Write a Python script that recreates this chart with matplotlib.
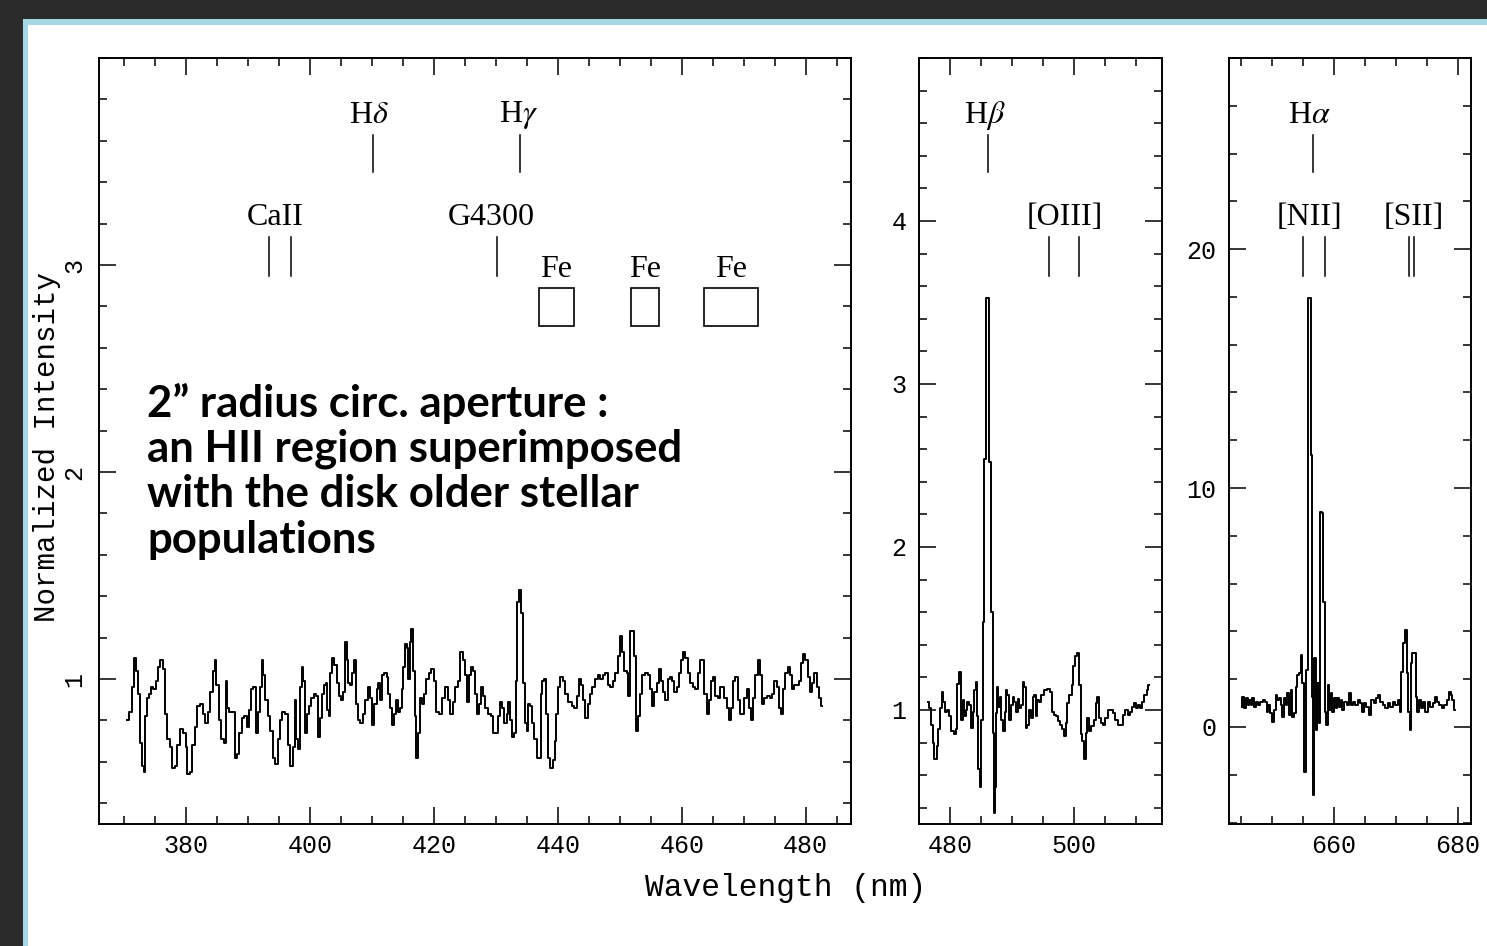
import matplotlib
matplotlib.use("Agg")
import matplotlib.pyplot as plt
import matplotlib.transforms as mtransforms
from matplotlib.patches import Rectangle
from matplotlib.ticker import MultipleLocator

plt.rcParams['mathtext.fontset'] = 'stix'
plt.rcParams['font.family'] = ['Liberation Mono', 'DejaVu Sans']

# --- blue continuum 370-483 nm ---
blue_wl = [370.47, 371.27, 371.53, 371.81, 372.18, 372.50, 372.73, 373.05, 373.31, 373.58,
           373.85, 374.23, 374.50, 375.03, 375.31, 375.68, 376.11, 376.48, 376.81, 377.18,
           377.61, 378.10, 378.42, 378.79, 379.34, 379.76, 380.15, 380.40, 380.84, 381.21,
           381.65, 382.02, 382.45, 382.94, 383.37, 383.79, 384.18, 384.55, 384.82, 385.08,
           385.52, 385.95, 386.32, 386.60, 386.85, 387.24, 387.66, 388.10, 388.47, 388.85,
           389.27, 389.66, 389.98, 390.35, 390.73, 391.05, 391.44, 391.81, 392.13, 392.40,
           392.66, 393.05, 393.42, 393.85, 394.23, 394.66, 395.03, 395.35, 395.73, 396.27,
           396.69, 397.08, 397.45, 397.73, 397.98, 398.31, 398.53, 398.85, 399.11, 399.50,
           399.76, 400.03, 400.40, 400.84, 401.27, 401.53, 401.81, 402.18, 402.45, 402.73,
           402.89, 403.15, 403.37, 403.79, 404.18, 404.48, 404.87, 405.31, 405.56, 405.84,
           406.11, 406.37, 406.76, 407.02, 407.29, 407.56, 407.98, 408.37, 408.74, 409.18,
           409.60, 409.98, 410.24, 410.63, 410.95, 411.21, 411.60, 411.85, 412.24, 412.55,
           412.81, 413.21, 413.45, 413.74, 414.11, 414.44, 414.71, 414.98, 415.24, 415.52,
           415.79, 416.00, 416.27, 416.53, 416.81, 417.08, 417.34, 417.61, 417.89, 418.21,
           418.58, 418.95, 419.39, 419.82, 420.19, 420.56,
           421.00, 421.53, 422.08, 422.50, 422.89, 423.26, 423.69, 424.06, 424.50, 424.87,
           425.19, 425.47, 425.84, 426.21, 426.53, 426.81, 427.18, 427.45, 427.82, 428.15,
           428.53, 429.06, 429.44, 429.76, 430.15, 430.52, 430.84, 431.21, 431.60, 431.92,
           432.18, 432.45, 432.73, 433.10, 433.37, 433.63, 433.90, 434.23, 434.55, 434.82,
           435.15, 435.40, 435.73, 436.05, 436.44, 436.76, 437.13, 437.40, 437.66, 437.98,
           438.31, 438.63, 439.02, 439.39, 439.66, 439.92, 440.24, 440.63, 441.00, 441.44,
           441.97, 442.50, 442.89, 443.21, 443.58, 443.95, 444.27, 444.66, 445.03, 445.35,
           445.73, 446.26, 446.65, 447.08, 447.50, 447.89, 448.26, 448.69, 449.06, 449.50,
           449.87, 450.19, 450.56, 450.95, 451.27, 451.48, 451.76, 452.18, 452.56, 452.82,
           453.10, 453.42, 453.79, 454.34, 454.71, 455.03, 455.40, 455.79, 456.11, 456.48,
           456.85, 457.18, 457.56, 457.94, 458.26, 458.63, 459.02, 459.32, 459.71, 460.08,
           460.40, 460.79, 461.16, 461.60, 462.02, 462.40, 462.77, 463.10, 463.47, 463.84,
           464.16, 464.53, 464.92, 465.24, 465.63, 466.00, 466.32, 466.69, 467.08, 467.39,
           467.77, 468.15, 468.47, 468.85, 469.23, 469.55, 469.92, 470.31, 470.61, 471.00,
           471.37, 471.69, 472.08, 472.45, 472.77, 473.15, 473.53, 473.95, 474.39, 474.76,
           475.13, 475.45, 475.84, 476.21, 476.53, 476.92, 477.29, 477.61, 477.98, 478.35,
           478.68, 479.06, 479.44, 479.76, 480.15, 480.52, 480.84, 481.21, 481.60, 481.92,
           482.29, 482.66]
blue_flux = [0.80, 0.84, 0.96, 1.10, 1.04, 0.93, 0.69, 0.58, 0.55, 0.82,
             0.91, 0.93, 0.96, 0.95, 0.99, 1.06, 1.09, 1.05, 0.83, 0.71,
             0.67, 0.57, 0.58, 0.68, 0.76, 0.74, 0.67, 0.54, 0.55, 0.68,
             0.77, 0.87, 0.88, 0.83, 0.79, 0.84, 0.94, 1.04, 1.09, 0.97,
             0.80, 0.71, 0.69, 0.99, 0.86, 0.84, 0.84, 0.62, 0.64, 0.74,
             0.81, 0.82, 0.77, 0.85, 0.95, 0.96, 0.74, 0.84, 0.96, 1.09,
             1.02, 0.90, 0.82, 0.75, 0.62, 0.59, 0.71, 0.80, 0.84, 0.83,
             0.68, 0.58, 0.67, 0.90, 0.71, 0.66, 0.96, 1.06, 0.99, 0.74,
             0.83, 0.87, 0.91, 0.93, 0.92, 0.72, 0.81, 0.93, 0.97, 0.98,
             0.85, 0.82, 1.03, 1.10, 1.07, 0.98, 0.92, 0.90, 0.94, 1.18,
             1.09, 0.98, 0.97, 1.03, 1.09, 0.88, 0.80, 0.79, 0.83, 0.90,
             0.96, 0.91, 0.78, 0.88, 0.95, 0.98, 0.90, 1.02, 1.03, 1.01,
             0.93, 0.86, 0.78, 0.83, 0.90, 0.84, 0.86, 0.95, 1.06, 1.17,
             1.15, 1.00, 1.18, 1.24, 1.04, 0.82, 0.62, 0.74, 0.91, 0.88,
             0.93, 1.00, 1.03, 1.05, 0.99, 0.84,
             0.83, 0.91, 0.96, 0.90, 0.83, 0.89, 0.96, 0.99, 1.13, 1.09,
             1.02, 0.89, 1.02, 1.06, 1.04, 0.93, 0.83, 0.88, 0.96, 0.92,
             0.86, 0.83, 0.82, 0.74, 0.74, 0.82, 0.89, 0.86, 0.79, 0.83,
             0.89, 0.80, 0.72, 0.74, 0.99, 1.37, 1.43, 1.32, 0.98, 0.79,
             0.75, 0.88, 0.87, 0.79, 0.71, 0.62, 0.62, 0.93, 0.99, 1.00,
             0.83, 0.62, 0.57, 0.61, 0.70, 0.83, 0.96, 1.01, 0.99, 0.93,
             0.89, 0.87, 0.86, 0.92, 1.00, 0.97, 0.90, 0.81, 0.88, 0.93,
             0.96, 1.00, 1.02, 1.00, 1.02, 1.03, 0.97, 0.96, 0.99, 1.03,
             1.11, 1.21, 1.13, 1.04, 1.03, 0.92, 1.23, 1.23, 1.11, 0.75,
             0.82, 0.93, 1.02, 1.03, 1.02, 0.95, 0.87, 0.94, 0.98, 1.05,
             0.99, 0.94, 0.90, 1.00, 1.01, 0.99, 0.94, 0.96, 1.03, 1.09,
             1.13, 1.10, 1.03, 0.98, 0.96, 0.95, 1.03, 1.09, 1.09, 0.93,
             0.83, 0.90, 0.99, 1.01, 0.92, 0.91, 0.96, 0.96, 0.91, 0.86,
             0.80, 0.86, 0.99, 1.01, 0.90, 0.83, 0.83, 0.91, 0.95, 0.86,
             0.80, 0.91, 1.02, 1.09, 1.02, 0.88, 0.91, 0.92, 0.91, 0.93,
             0.99, 0.96, 0.86, 0.83, 0.95, 1.03, 1.06, 1.02, 0.95, 0.97,
             0.97, 0.99, 1.08, 1.12, 1.09, 1.01, 0.94, 0.98, 1.03, 0.96,
             0.91, 0.87]

# --- H-beta / [OIII] window ---
hb_wl = [476.50, 476.77, 477.05, 477.31, 477.69, 477.97, 478.29, 478.50, 478.76, 479.08,
         479.35, 479.73, 480.00, 480.37, 480.81, 481.08, 481.34, 481.61, 481.89, 482.15,
         482.42, 482.69, 482.95, 483.23, 483.50, 483.77, 484.03, 484.31, 484.47, 484.68,
         484.95, 485.16, 485.37, 485.65, 485.92, 486.13, 486.45, 486.74, 487.00, 487.16,
         487.37, 487.53, 487.69, 487.90, 488.18, 488.39, 488.71, 488.98, 489.15, 489.40,
         489.68, 489.95, 490.23, 490.48, 490.76, 491.02, 491.29, 491.56, 491.84, 492.10,
         492.37, 492.63, 492.90, 493.18, 493.45, 493.71, 493.98, 494.24, 494.52, 494.89,
         495.32, 495.85, 496.29, 496.56, 496.94, 497.31, 497.63, 498.02, 498.27, 498.55,
         498.82, 499.08, 499.47, 499.79, 500.05, 500.32, 500.69, 500.97, 501.24, 501.50,
         501.77, 502.05, 502.31, 502.58, 502.97, 503.39, 503.66, 503.92, 504.19, 504.56,
         504.89, 505.27, 505.65, 506.08, 506.50, 506.89, 507.31, 507.79, 508.11, 508.50,
         508.87, 509.19, 509.56, 509.84, 510.21, 510.53, 510.92, 511.18, 511.56, 511.89,
         512.15]
hb_flux = [1.05, 1.01, 0.91, 0.80, 0.70, 0.78, 0.88, 1.01, 1.11, 1.05,
           0.99, 1.00, 0.96, 0.87, 0.85, 0.88, 1.16, 1.23, 0.94, 1.06,
           0.96, 1.00, 1.05, 1.03, 0.89, 0.99, 1.12, 1.17, 0.96, 0.64,
           0.53, 0.94, 1.54, 2.54, 3.53, 3.53, 2.52, 1.60, 0.86, 0.37,
           0.53, 0.98, 1.14, 1.02, 1.08, 0.94, 0.87, 0.99, 1.12, 1.09,
           0.94, 1.03, 1.08, 1.05, 0.99, 1.07, 1.01, 1.03, 1.17, 1.14,
           0.89, 0.91, 1.00, 0.95, 1.08, 1.09, 0.96, 1.06, 1.05, 1.09,
           1.12, 1.13, 1.11, 0.99, 0.97, 0.96, 0.93, 0.91, 0.88, 0.84,
           0.92, 1.04, 1.09, 1.15, 1.27, 1.33, 1.35, 1.15, 0.85, 0.81,
           0.70, 0.86, 0.95, 0.87, 0.90, 0.94, 1.04, 1.08, 0.95, 0.92,
           0.91, 0.95, 1.00, 1.00, 0.98, 0.94, 0.91, 0.91, 0.97, 1.00,
           0.97, 0.99, 1.02, 1.04, 1.01, 1.03, 1.01, 1.05, 1.09, 1.12,
           1.15]

# --- H-alpha / [NII] / [SII] window ---
ha_wl = [645.10, 645.37, 645.64, 645.92, 646.17, 646.45, 646.72, 646.98, 647.25, 647.62,
         647.95, 648.33, 648.71, 649.03, 649.30, 649.56, 649.83, 650.21, 650.48, 650.75,
         651.01, 651.29, 651.56, 651.82, 652.09, 652.37, 652.62, 652.90, 653.17, 653.43,
         653.71, 653.98, 654.24, 654.51, 654.79, 655.04, 655.32, 655.60, 655.92, 656.13,
         656.29, 656.56, 656.77, 656.93, 657.21, 657.37, 657.63, 657.90, 658.17, 658.43,
         658.66, 658.91, 659.14, 659.35, 659.62, 659.88, 660.16, 660.43, 660.69, 660.96,
         661.24, 661.50, 661.88, 662.20, 662.58, 662.95, 663.27, 663.66, 664.03, 664.35,
         664.62, 665.00, 665.37, 665.80, 666.17, 666.61, 666.98, 667.30, 667.69, 668.06,
         668.50, 668.92, 669.30, 669.67, 670.11, 670.48, 670.75, 671.01, 671.29, 671.61,
         671.82, 672.10, 672.26, 672.53, 672.79, 673.06, 673.33, 673.59, 673.87, 674.24,
         674.56, 674.95, 675.32, 675.76, 676.13, 676.45, 676.82, 677.21, 677.63, 678.01,
         678.34, 678.71, 678.98, 679.24, 679.52]
ha_flux = [0.85, 1.27, 0.78, 1.20, 0.92, 1.13, 0.92, 1.20, 0.85, 1.06,
           0.92, 1.06, 1.13, 1.06, 0.64, 0.92, 0.57, 0.22, 0.71, 1.34,
           1.13, 1.20, 0.92, 0.43, 1.20, 0.92, 1.41, 0.50, 1.55, 0.43,
           0.57, 1.69, 2.18, 2.25, 3.01, 1.83, -1.87, 2.38, 17.95, 17.95,
           11.38, 1.27, -2.85, 2.87, -0.13, 1.83, 0.15, 9.01, 8.94, 5.24,
           0.64, 0.08, 1.76, 0.71, 1.41, 0.64, 1.20, 0.78, 1.20, 0.85,
           1.13, 0.71, 1.06, 0.92, 1.41, 0.92, 1.06, 0.92, 1.13, 0.99,
           0.64, 0.99, 0.85, 0.50, 1.13, 0.99, 1.20, 1.34, 1.06, 0.92,
           0.78, 0.99, 0.85, 1.06, 0.92, 1.13, 0.64, 2.31, 3.50, 4.06,
           2.25, 0.64, -0.13, 2.67, 3.08, 3.08, 1.27, 0.64, 1.13, 0.78,
           1.06, 0.64, 1.06, 0.85, 0.99, 1.27, 1.06, 0.92, 0.78, 0.92,
           1.13, 1.48, 1.34, 1.13, 0.71]

annotation = ["2\u201d radius circ. aperture :",
              "an HII region superimposed",
              "with the disk older stellar",
              "populations"]

W, H = 1487, 946
fig = plt.figure(figsize=(W / 100, H / 100), dpi=100, facecolor='#2b2b2b')
fig.patches.append(Rectangle((23 / W, 0), 1, 1 - 19 / H, transform=fig.transFigure,
                             facecolor='#a5d7e4', edgecolor='none', zorder=-10))
fig.patches.append(Rectangle((28 / W, 0), 1, 1 - 25 / H, transform=fig.transFigure,
                             facecolor='white', edgecolor='none', zorder=-9))

bottom, height = 1 - 824 / H, 766 / H
ax1 = fig.add_axes([99 / W, bottom, 752 / W, height])
ax2 = fig.add_axes([919 / W, bottom, 243 / W, height])
ax3 = fig.add_axes([1229 / W, bottom, 242 / W, height])


def setup(ax, xlim, ylim, yticks, ymin, rot=0):
    ax.set_facecolor('white')
    ax.set_xlim(*xlim)
    ax.set_ylim(*ylim)
    ax.xaxis.set_major_locator(MultipleLocator(20))
    ax.xaxis.set_minor_locator(MultipleLocator(5))
    ax.set_yticks(yticks)
    ax.yaxis.set_minor_locator(MultipleLocator(ymin))
    ax.tick_params(which='both', direction='in', top=True, right=True,
                   width=1.1, labelsize=18, colors='black')
    ax.tick_params(which='major', length=12.2)
    ax.tick_params(which='minor', length=6.1)
    ax.tick_params(axis='x', pad=7)
    ax.tick_params(axis='y', pad=9, labelrotation=rot)
    for s in ax.spines.values():
        s.set_linewidth(1.4)


def mark(ax, xs, label, lx, ytext, y0, y1):
    tr = mtransforms.blended_transform_factory(ax.transData, ax.transAxes)
    for x in xs:
        ax.plot([x, x], [y0, y1], transform=tr, color='black', lw=1.1)
    ax.text(lx, ytext, label, transform=tr, ha='center', va='center',
            fontsize=23, family='Liberation Serif')


setup(ax1, (366.0, 487.3), (0.3, 4.0), [1, 2, 3], 0.2, rot=90)
setup(ax2, (475.0, 514.2), (0.3, 5.0), [1, 2, 3, 4], 0.2)
setup(ax3, (643.06, 682.1), (-4.06, 28.0), [0, 10, 20], 2)

for lab in ax1.get_yticklabels():
    lab.set_va('center')

n = min(len(blue_wl), len(blue_flux))
ax1.plot(blue_wl[:n], blue_flux[:n], color='black', lw=1.4, drawstyle='steps-mid')
n = min(len(hb_wl), len(hb_flux))
ax2.plot(hb_wl[:n], hb_flux[:n], color='black', lw=1.4, drawstyle='steps-mid')
n = min(len(ha_wl), len(ha_flux))
ax3.plot(ha_wl[:n], ha_flux[:n], color='black', lw=1.4, drawstyle='steps-mid')

# line identifications
top_lab, top0, top1 = 0.925, 0.8995, 0.851
low_lab, low0, low1 = 0.792, 0.766, 0.715
mark(ax1, [410.2], r'H$\delta$', 409.5, top_lab, top0, top1)
mark(ax1, [433.9], r'H$\gamma$', 433.7, top_lab, top0, top1)
mark(ax1, [393.4, 396.9], 'CaII', 394.5, low_lab, low0, low1)
mark(ax1, [430.2], 'G4300', 429.2, low_lab, low0, low1)
tr1 = mtransforms.blended_transform_factory(ax1.transData, ax1.transAxes)
for x0, x1 in [(437.0, 442.6), (451.8, 456.3), (463.6, 472.3)]:
    ax1.add_patch(Rectangle((x0, 0.6501), x1 - x0, 0.0496, transform=tr1,
                            fill=False, edgecolor='black', lw=1.2))
    ax1.text((x0 + x1) / 2, 0.7245, 'Fe', transform=tr1, ha='center', va='center',
             fontsize=23, family='Liberation Serif')

mark(ax2, [486.1], r'H$\beta$', 485.6, top_lab, top0, top1)
mark(ax2, [496.0, 500.8], '[OIII]', 498.5, low_lab, low0, low1)
mark(ax3, [656.6], r'H$\alpha$', 656.0, top_lab, top0, top1)
mark(ax3, [655.0, 658.5], '[NII]', 656.1, low_lab, low0, low1)
mark(ax3, [672.1, 672.9], '[SII]', 672.9, low_lab, low0, low1)

# axis titles
fig.text(47 / W, 1 - 447 / H, 'Normalized Intensity', rotation=90, ha='center',
         va='center', fontsize=21)
fig.text(786 / W, 1 - 888 / H, 'Wavelength (nm)', ha='center', va='center', fontsize=22.5)

# caption in the blue panel
for i, line in enumerate(annotation):
    fig.text(147 / W, 1 - (403 + 45.7 * i) / H, line, ha='left', va='center',
             fontsize=31.5, fontweight='bold', family=['Lato', 'DejaVu Sans'])

fig.savefig('out.png', dpi=100, facecolor=fig.get_facecolor())
